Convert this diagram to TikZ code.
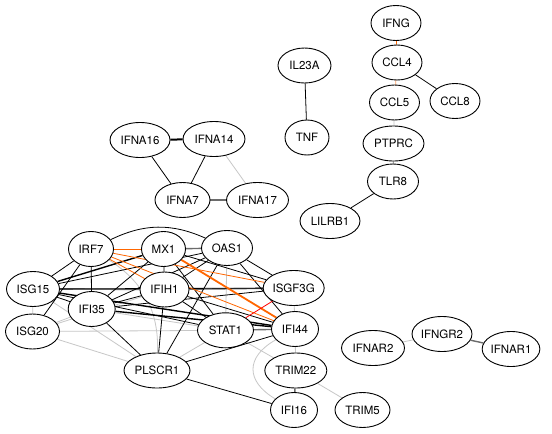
\documentclass[tikz,border=0pt]{standalone}
\usepackage{fontspec}
\setmainfont{TeX Gyre Heros}
\usetikzlibrary{shapes.geometric,backgrounds}
\definecolor{orangeedge}{RGB}{255,102,0}
\newcommand\genefont{\fontsize{11.5}{13}\selectfont}

\begin{document}
\begin{tikzpicture}[x=1pt, y=-1pt,
  gene/.style={draw, ellipse, fill=white, line width=0.9pt, inner sep=0pt,
    minimum height=35pt, minimum width=#1, font=\genefont},
  gene/.default=50pt,
  blk/.style={black, line width=0.8pt},
  blkthick/.style={black, line width=1.4pt},
  dkgray/.style={black!58, line width=1.4pt},
  ltgray/.style={black!22, line width=0.8pt},
  orng/.style={orangeedge, line width=0.8pt},
  orngthick/.style={orangeedge, line width=1.8pt},
  rededge/.style={red, line width=0.8pt}]
  \useasboundingbox (0,0) rectangle (552,434);
  % draw gene nodes, small groups
  \node[gene] (IFNG) at (396,23) {IFNG};
  \node[gene] (CCL4) at (397,62.5) {CCL4};
  \node[gene] (CCL5) at (394.5,102.5) {CCL5};
  \node[gene] (CCL8) at (455,101) {CCL8};
  \node[gene=61pt] (PTPRC) at (393.5,143.5) {PTPRC};
  \node[gene=51pt] (TLR8) at (393,181.5) {TLR8};
  \node[gene=60pt] (LILRB1) at (330,221) {LILRB1};
  \node[gene=53pt] (IL23A) at (304.5,65.5) {IL23A};
  \node[gene=44pt] (TNF) at (307,137.5) {TNF};
  \node[gene=60pt] (IFNA16) at (140,140) {IFNA16};
  \node[gene=62pt] (IFNA14) at (214,139) {IFNA14};
  \node[gene=55pt] (IFNA7) at (182.5,200) {IFNA7};
  \node[gene=62pt] (IFNA17) at (257.5,200) {IFNA17};
  \node[gene=63pt] (IFNAR2) at (373,348) {IFNAR2};
  \node[gene=60pt] (IFNGR2) at (442,334) {IFNGR2};
  \node[gene=55pt] (IFNAR1) at (511,349) {IFNAR1};
  % draw gene nodes, interferon cluster
  \node[gene=45pt] (IRF7) at (91,249) {IRF7};
  \node[gene=44pt] (MX1) at (163.5,249) {MX1};
  \node[gene=51pt] (OAS1) at (227,248) {OAS1};
  \node[gene=53pt] (ISG15) at (33,289) {ISG15};
  \node[gene=49pt] (IFIH1) at (164.5,289.5) {IFIH1};
  \node[gene=61pt] (ISGF3G) at (293.7,288) {ISGF3G};
  \node[gene=47pt] (IFI35) at (91.7,309) {IFI35};
  \node[gene=54pt] (ISG20) at (32.5,331.5) {ISG20};
  \node[gene=56pt] (STAT1) at (225.5,330.3) {STAT1};
  \node[gene=47pt] (IFI44) at (295,329) {IFI44};
  \node[gene=66pt] (PLSCR1) at (157,370.5) {PLSCR1};
  \node[gene=62pt] (TRIM22) at (295.8,370.5) {TRIM22};
  \node[gene=47pt] (IFI16) at (294,410) {IFI16};
  \node[gene=55pt] (TRIM5) at (362.5,410) {TRIM5};

  \begin{scope}[on background layer]
  \fill[white] (0,0) rectangle (552,434);
  % draw light gray edges
  \draw[ltgray] (CCL5) -- (PTPRC);
  \draw[ltgray] (IFNA14) -- (IFNA17);
  \draw[ltgray] (IFNAR2) -- (IFNGR2);
  \draw[ltgray] (TRIM22) -- (TRIM5);
  \draw[ltgray] (IFI44) -- (TRIM22);
  \draw[ltgray] (IFI44) to[bend right=60, looseness=1.5] (IFI16);
  \draw[ltgray] (STAT1) -- (TRIM22);
  \draw[ltgray] (ISGF3G) -- (IFI44);
  \draw[ltgray] (STAT1) -- (PLSCR1);
  \draw[ltgray] (IRF7) to[bend left=30] (PLSCR1);
  \draw[ltgray] (OAS1) -- (STAT1);
  \draw[ltgray] (ISG15) -- (ISG20);
  \draw[ltgray] (ISG15) -- (PLSCR1);
  \draw[ltgray] (IFI35) -- (ISG20);
  \draw[ltgray] (IFI35) -- (STAT1);
  \draw[ltgray] (ISG20) -- (STAT1);
  \draw[ltgray] (ISG20) -- (PLSCR1);
  \draw[ltgray] (ISG20) -- (IFIH1);
  % draw dark gray edges
  \draw[dkgray, line width=0.8pt] (PTPRC) -- (TLR8);
  \draw[dkgray] (IFNA7) -- (IFNA17);
  \draw[dkgray] (IFNGR2) -- (IFNAR1);
  \draw[dkgray] (TRIM22) -- (IFI16);
  \draw[dkgray] (MX1) -- (OAS1);
  \draw[dkgray] (STAT1) -- (IFI44);
  \draw[dkgray] (ISG15) -- (IFIH1);
  \draw[dkgray] (IFIH1) -- (ISGF3G);
  % draw black edges
  \draw[blk] (CCL4) -- (CCL8);
  \draw[blk] (TLR8) -- (LILRB1);
  \draw[blk] (IL23A) -- (TNF);
  \draw[black, line width=2pt] (IFNA16) -- (IFNA14);
  \draw[blk] (IFNA16) -- (IFNA7);
  \draw[blk] (IFNA14) -- (IFNA7);
  \draw[blk] (PLSCR1) -- (IFI16);
  \draw[blk] (IFI44) -- (PLSCR1);
  \draw[blk] (IRF7) to[bend left=25] (OAS1);
  \draw[blk] (IRF7) -- (ISG15);
  \draw[blk] (IRF7) -- (IFI35);
  \draw[blk] (IRF7) -- (ISG20);
  \draw[blkthick] (MX1) -- (ISG15);
  \draw[blk] (MX1) -- (IFI35);
  \draw[blk] (MX1) -- (ISGF3G);
  \draw[blk] (MX1) -- (STAT1);
  \draw[blk] (MX1) -- (IFIH1);
  \draw[blk] (OAS1) -- (ISG15);
  \draw[blk] (OAS1) -- (IFI35);
  \draw[blk] (OAS1) -- (IFIH1);
  \draw[blk] (OAS1) -- (ISGF3G);
  \draw[blk] (OAS1) -- (IFI44);
  \draw[blk] (OAS1) -- (PLSCR1);
  \draw[blk] (ISG15) -- (IFI35);
  \draw[blk] (ISG15) -- (ISGF3G);
  \draw[blk] (ISG15) -- (STAT1);
  \draw[blkthick] (ISG15) -- (IFI44);
  \draw[blk] (IFIH1) -- (STAT1);
  \draw[blk] (IFIH1) -- (IFI44);
  \draw[blk] (IFIH1) -- (IFI35);
  \draw[blk] (IFIH1) -- (PLSCR1);
  \draw[blk] (IFI35) -- (ISGF3G);
  \draw[blkthick] (IFI35) -- (IFI44);
  \draw[blk] (IFI35) -- (PLSCR1);
  % draw orange and red edges
  \draw[orng] (IFNG) -- (CCL4);
  \draw[orng, orangeedge!60] (CCL4) -- (CCL5);
  \draw[orng] (IRF7) -- (MX1);
  \draw[orng] (IRF7) -- (IFIH1);
  \draw[orng] (IRF7) -- (ISGF3G);
  \draw[orng] (IRF7) -- (IFI44);
  \draw[orngthick] (MX1) -- (IFI44);
  \draw[rededge] (ISGF3G) -- (STAT1);
  \end{scope}
\end{tikzpicture}
\end{document}
